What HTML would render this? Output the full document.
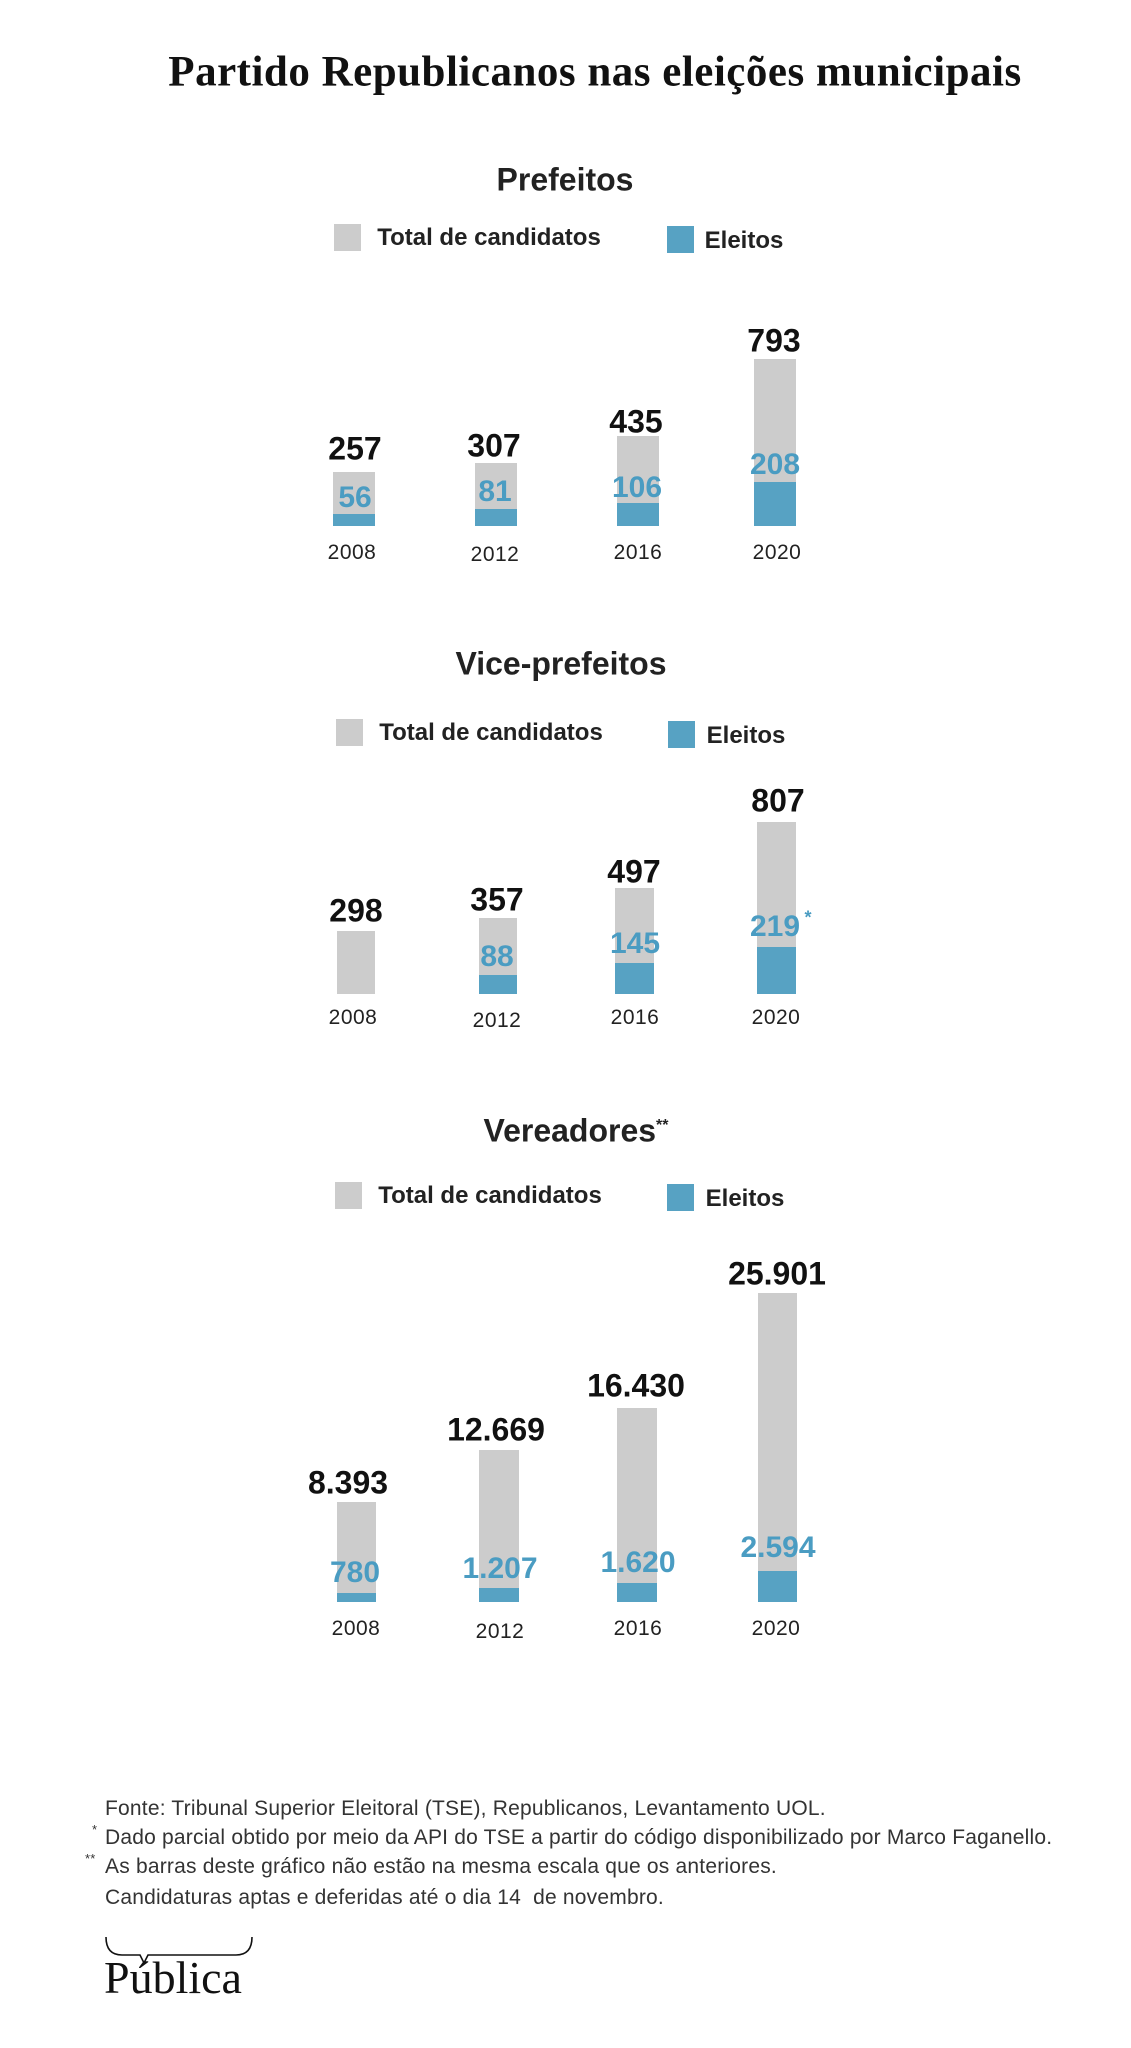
<!DOCTYPE html>
<html><head><meta charset="utf-8"><style>
body{margin:0;background:#fff;}
#c{position:relative;width:1131px;height:2048px;overflow:hidden;font-family:"Liberation Sans",sans-serif;color:#1e1e1e;}
.t{position:absolute;transform:translate(-50%,-50%);white-space:nowrap;}
.b{position:absolute;}
.g{background:#cccccc;}
.bl{background:#57a2c3;}
.tot{font-weight:bold;font-size:32px;color:#111;}
.el{font-weight:bold;font-size:30px;color:#4a9cc2;}
.yr{font-size:21px;color:#222;letter-spacing:0.5px;}
.h{font-weight:bold;font-size:32px;color:#222;}
.lg{font-weight:bold;font-size:24px;color:#222;}
.fn{position:absolute;left:105px;font-size:21px;color:#333;white-space:nowrap;transform:translateY(-50%);letter-spacing:0.2px;}
</style></head><body><div id="c">
<div class="t" style="left:595px;top:72px;font-family:'Liberation Serif',serif;font-weight:bold;font-size:43px;color:#111;letter-spacing:0.5px;">Partido Republicanos nas eleições municipais</div>

<!-- Prefeitos -->
<div class="t h" style="left:565px;top:180px;">Prefeitos</div>
<div class="b g" style="left:334px;top:224px;width:27px;height:27px;"></div>
<div class="t lg" style="left:489px;top:238px;">Total de candidatos</div>
<div class="b bl" style="left:667px;top:226px;width:27px;height:27px;"></div>
<div class="t lg" style="left:744px;top:241px;">Eleitos</div>

<div class="b g" style="left:333px;top:472px;width:42px;height:54px;"></div>
<div class="b bl" style="left:333px;top:514px;width:42px;height:12px;"></div>
<div class="b g" style="left:475px;top:463px;width:42px;height:63px;"></div>
<div class="b bl" style="left:475px;top:509px;width:42px;height:17px;"></div>
<div class="b g" style="left:617px;top:436px;width:42px;height:90px;"></div>
<div class="b bl" style="left:617px;top:503px;width:42px;height:23px;"></div>
<div class="b g" style="left:754px;top:359px;width:42px;height:167px;"></div>
<div class="b bl" style="left:754px;top:482px;width:42px;height:44px;"></div>
<div class="t tot" style="left:355px;top:449px;">257</div>
<div class="t tot" style="left:494px;top:446px;">307</div>
<div class="t tot" style="left:636px;top:422px;">435</div>
<div class="t tot" style="left:774px;top:341px;">793</div>
<div class="t el" style="left:355px;top:498px;">56</div>
<div class="t el" style="left:495px;top:492px;">81</div>
<div class="t el" style="left:637px;top:488px;">106</div>
<div class="t el" style="left:775px;top:465px;">208</div>
<div class="t yr" style="left:352px;top:553px;">2008</div>
<div class="t yr" style="left:495px;top:555px;">2012</div>
<div class="t yr" style="left:638px;top:553px;">2016</div>
<div class="t yr" style="left:777px;top:553px;">2020</div>

<!-- Vice -->
<div class="t h" style="left:561px;top:664px;">Vice-prefeitos</div>
<div class="b g" style="left:336px;top:719px;width:27px;height:27px;"></div>
<div class="t lg" style="left:491px;top:733px;">Total de candidatos</div>
<div class="b bl" style="left:668px;top:721px;width:27px;height:27px;"></div>
<div class="t lg" style="left:746px;top:736px;">Eleitos</div>

<div class="b g" style="left:337px;top:931px;width:38px;height:63px;"></div>
<div class="b g" style="left:479px;top:918px;width:38px;height:76px;"></div>
<div class="b bl" style="left:479px;top:975px;width:38px;height:19px;"></div>
<div class="b g" style="left:615px;top:888px;width:39px;height:106px;"></div>
<div class="b bl" style="left:615px;top:963px;width:39px;height:31px;"></div>
<div class="b g" style="left:757px;top:822px;width:39px;height:172px;"></div>
<div class="b bl" style="left:757px;top:947px;width:39px;height:47px;"></div>
<div class="t tot" style="left:356px;top:911px;">298</div>
<div class="t tot" style="left:497px;top:900px;">357</div>
<div class="t tot" style="left:634px;top:872px;">497</div>
<div class="t tot" style="left:778px;top:801px;">807</div>
<div class="t el" style="left:497px;top:957px;">88</div>
<div class="t el" style="left:635px;top:944px;">145</div>
<div class="t el" style="left:775px;top:927px;">219</div>
<div class="t" style="left:808px;top:918px;font-size:18px;font-weight:bold;color:#4a9cc2;">*</div>
<div class="t yr" style="left:353px;top:1018px;">2008</div>
<div class="t yr" style="left:497px;top:1021px;">2012</div>
<div class="t yr" style="left:635px;top:1018px;">2016</div>
<div class="t yr" style="left:776px;top:1018px;">2020</div>

<!-- Vereadores -->
<div class="t h" style="left:576px;top:1131px;">Vereadores<sup style="font-size:16px;">**</sup></div>
<div class="b g" style="left:335px;top:1182px;width:27px;height:27px;"></div>
<div class="t lg" style="left:490px;top:1196px;">Total de candidatos</div>
<div class="b bl" style="left:667px;top:1184px;width:27px;height:27px;"></div>
<div class="t lg" style="left:745px;top:1199px;">Eleitos</div>

<div class="b g" style="left:337px;top:1502px;width:39px;height:100px;"></div>
<div class="b bl" style="left:337px;top:1593px;width:39px;height:9px;"></div>
<div class="b g" style="left:479px;top:1450px;width:40px;height:152px;"></div>
<div class="b bl" style="left:479px;top:1588px;width:40px;height:14px;"></div>
<div class="b g" style="left:617px;top:1408px;width:40px;height:194px;"></div>
<div class="b bl" style="left:617px;top:1583px;width:40px;height:19px;"></div>
<div class="b g" style="left:758px;top:1293px;width:39px;height:309px;"></div>
<div class="b bl" style="left:758px;top:1571px;width:39px;height:31px;"></div>
<div class="t tot" style="left:348px;top:1483px;">8.393</div>
<div class="t tot" style="left:496px;top:1430px;">12.669</div>
<div class="t tot" style="left:636px;top:1386px;">16.430</div>
<div class="t tot" style="left:777px;top:1274px;">25.901</div>
<div class="t el" style="left:355px;top:1573px;">780</div>
<div class="t el" style="left:500px;top:1569px;">1.207</div>
<div class="t el" style="left:638px;top:1563px;">1.620</div>
<div class="t el" style="left:778px;top:1548px;">2.594</div>
<div class="t yr" style="left:356px;top:1629px;">2008</div>
<div class="t yr" style="left:500px;top:1632px;">2012</div>
<div class="t yr" style="left:638px;top:1629px;">2016</div>
<div class="t yr" style="left:776px;top:1629px;">2020</div>

<!-- footnotes -->
<div class="fn" style="top:1809px;">Fonte: Tribunal Superior Eleitoral (TSE), Republicanos, Levantamento UOL.</div>
<div class="fn" style="top:1838px;"><span style="position:absolute;left:-13px;top:-4px;font-size:13px;">*</span>Dado parcial obtido por meio da API do TSE a partir do código disponibilizado por Marco Faganello.</div>
<div class="fn" style="top:1867px;"><span style="position:absolute;left:-20px;top:-4px;font-size:13px;">**</span>As barras deste gráfico não estão na mesma escala que os anteriores.</div>
<div class="fn" style="top:1898px;">Candidaturas aptas e deferidas até o dia 14&nbsp; de novembro.</div>

<svg style="position:absolute;left:104px;top:1935px;" width="150" height="30" viewBox="0 0 150 30">
<path d="M2 2 Q2 20 18 20 L36 20 L40 28 L44 20 L132 20 Q148 20 148 2" fill="none" stroke="#111" stroke-width="1.6"/>
</svg>
<div style="position:absolute;left:104px;top:1955px;font-family:'Liberation Serif',serif;font-size:46px;color:#111;line-height:1;">Pública</div>
</div></body></html>
